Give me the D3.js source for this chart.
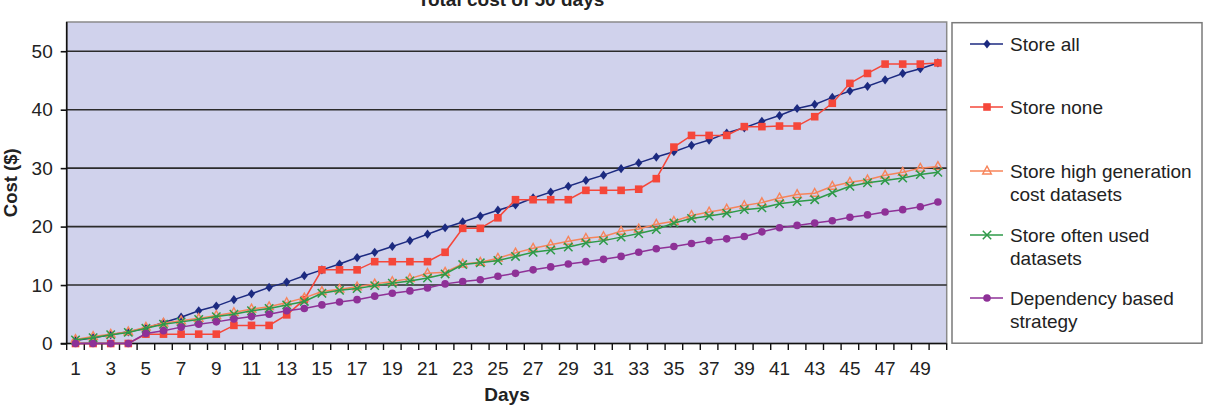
<!DOCTYPE html>
<html>
<head>
<meta charset="utf-8">
<script src="https://cdn.jsdelivr.net/npm/d3@7"></script>
<style>
  body { margin: 0; background: #fff; }
  text { font-family: "Liberation Sans", Arial, sans-serif; fill: #222; }
</style>
</head>
<body>
<svg id="chart"></svg>
<script>
// chart data
const days = d3.range(1, 51);
const yTicks = [0, 10, 20, 30, 40, 50];

const storeAll = [0.5, 1.0, 1.5, 2.0, 2.6, 3.6, 4.5, 5.6, 6.4, 7.5, 8.5, 9.6, 10.5, 11.6, 12.6, 13.6, 14.7, 15.6, 16.6, 17.6,
  18.7, 19.8, 20.8, 21.8, 22.8, 23.7, 24.9, 25.9, 26.9, 27.9, 28.8, 29.9, 30.9, 31.9, 32.8, 33.9, 34.8, 36.0, 36.9, 38.0,
  39.0, 40.2, 40.9, 42.1, 43.2, 44.0, 45.1, 46.2, 47.0, 48.0];
const storeNone = [0, 0, 0, 0, 1.6, 1.6, 1.6, 1.6, 1.6, 3.1, 3.1, 3.1, 4.9, 7.5, 12.6, 12.6, 12.6, 14.0, 14.0, 14.0,
  14.0, 15.6, 19.7, 19.7, 21.5, 24.6, 24.6, 24.6, 24.6, 26.2, 26.2, 26.2, 26.4, 28.2, 33.6, 35.6, 35.6, 35.6, 37.1, 37.1,
  37.2, 37.2, 38.8, 41.1, 44.5, 46.2, 47.8, 47.8, 47.8, 48.0];
const highGen = [0.7, 1.2, 1.6, 2.0, 2.8, 3.5, 3.9, 4.3, 4.8, 5.3, 5.9, 6.3, 7.0, 7.8, 8.9, 9.3, 9.7, 10.2, 10.6, 11.1,
  12.0, 12.2, 13.6, 13.9, 14.6, 15.5, 16.3, 16.9, 17.5, 18.0, 18.3, 19.2, 19.6, 20.4, 20.9, 21.9, 22.5, 23.0, 23.6, 24.1,
  24.9, 25.5, 25.7, 26.9, 27.6, 28.0, 28.8, 29.3, 30.0, 30.3];
const oftenUsed = [0.6, 1.0, 1.5, 1.9, 2.6, 3.3, 3.7, 4.1, 4.6, 5.0, 5.6, 6.0, 6.6, 7.2, 8.6, 9.1, 9.4, 9.9, 10.3, 10.7,
  11.2, 11.9, 13.5, 13.8, 14.2, 14.9, 15.6, 16.0, 16.5, 17.2, 17.6, 18.2, 18.8, 19.5, 20.6, 21.4, 21.8, 22.3, 22.9, 23.2,
  23.9, 24.3, 24.6, 25.8, 26.9, 27.5, 27.9, 28.3, 28.9, 29.3];
const dependency = [0, 0, 0, 0, 1.7, 2.2, 2.8, 3.3, 3.7, 4.2, 4.6, 5.0, 5.6, 6.0, 6.6, 7.1, 7.5, 8.1, 8.6, 9.0,
  9.5, 10.2, 10.6, 10.9, 11.5, 12.0, 12.6, 13.1, 13.6, 14.0, 14.4, 14.9, 15.6, 16.2, 16.6, 17.1, 17.6, 17.9, 18.3, 19.1,
  19.8, 20.2, 20.6, 21.0, 21.6, 22.0, 22.5, 22.9, 23.4, 24.2];

const seriesNames = ["Store all", "Store none", "Store high generation cost datasets",
  "Store often used datasets", "Dependency based strategy"];
const legendLines = [["Store all"], ["Store none"], ["Store high generation", "cost datasets"],
  ["Store often used", "datasets"], ["Dependency based", "strategy"]];

const series = [
  { name: seriesNames[0], values: storeAll, color: "#1c2a80", marker: "diamond" },
  { name: seriesNames[1], values: storeNone, color: "#f5473a", marker: "square" },
  { name: seriesNames[2], values: highGen, color: "#f7845a", marker: "triangle" },
  { name: seriesNames[3], values: oftenUsed, color: "#2e9a48", marker: "cross" },
  { name: seriesNames[4], values: dependency, color: "#8e3197", marker: "circle" }
];

const width = 1209, height = 414;
const plot = { left: 66.7, right: 946.7, top: 22, bottom: 343.5 };

const svg = d3.select("#chart").attr("width", width).attr("height", height);

const x = d3.scaleBand().domain(days).range([plot.left, plot.right]).padding(0);
const y = d3.scaleLinear().domain([0, 55]).range([plot.bottom, plot.top]);
const cx = d => x(d) + x.bandwidth() / 2;

// plot area
svg.append("rect")
   .attr("x", plot.left).attr("y", plot.top)
   .attr("width", plot.right - plot.left).attr("height", plot.bottom - plot.top)
   .attr("fill", "#d0d2ec")
   .attr("stroke", "#8a8a8a")
   .attr("stroke-width", 1.5);

// gridlines
svg.append("g")
   .selectAll("line")
   .data(yTicks.filter(t => t > 0))
   .join("line")
   .attr("x1", plot.left).attr("x2", plot.right)
   .attr("y1", d => y(d)).attr("y2", d => y(d))
   .attr("stroke", "#2b2b2b")
   .attr("stroke-width", 1.6);

// y axis
const yAxis = svg.append("g")
   .attr("transform", `translate(${plot.left},0)`)
   .call(d3.axisLeft(y).tickValues(yTicks).tickSize(6).tickSizeOuter(0).tickPadding(8));
yAxis.select(".domain").attr("stroke", "#111").attr("stroke-width", 1.6)
     .attr("d", `M0,${plot.top}V${plot.bottom}`);
yAxis.selectAll(".tick line").attr("stroke", "#111").attr("stroke-width", 1.6);
yAxis.selectAll(".tick text").style("font-size", "19px").attr("fill", "#222");

// x axis
svg.append("line")
   .attr("x1", plot.left - 6).attr("x2", plot.right)
   .attr("y1", plot.bottom).attr("y2", plot.bottom)
   .attr("stroke", "#111").attr("stroke-width", 1.6);

const bounds = days.map(d => x(d)).concat([plot.right]);
svg.append("g")
   .selectAll("line")
   .data(bounds)
   .join("line")
   .attr("x1", d => d).attr("x2", d => d)
   .attr("y1", plot.bottom).attr("y2", plot.bottom + 6.5)
   .attr("stroke", "#111").attr("stroke-width", 1.4);

svg.append("g")
   .selectAll("text")
   .data(days.filter(d => d % 2 === 1))
   .join("text")
   .attr("x", d => cx(d))
   .attr("y", 375)
   .attr("text-anchor", "middle")
   .style("font-size", "19px")
   .text(d => d);

// titles (the top one is clipped by the frame, as in the source)
svg.append("text")
   .attr("x", 511).attr("y", 6)
   .attr("text-anchor", "middle")
   .style("font-size", "19px").style("font-weight", "bold")
   .text("Total cost of 50 days");

svg.append("text")
   .attr("x", 507).attr("y", 401)
   .attr("text-anchor", "middle")
   .style("font-size", "19px").style("font-weight", "bold")
   .text("Days");

svg.append("text")
   .attr("transform", `translate(17,${(plot.top + plot.bottom) / 2}) rotate(-90)`)
   .attr("text-anchor", "middle")
   .style("font-size", "18.5px").style("font-weight", "bold")
   .text("Cost ($)");

// markers
function drawMarker(sel, s) {
  if (s.marker === "circle") {
    sel.append("circle").attr("r", 3.8).attr("fill", s.color);
  } else if (s.marker === "diamond") {
    sel.append("path").attr("d", "M0,-4.6L3.6,0L0,4.6L-3.6,0Z").attr("fill", s.color);
  } else if (s.marker === "square") {
    sel.append("path").attr("d", "M-3.8,-3.8h7.6v7.6h-7.6Z").attr("fill", s.color);
  } else if (s.marker === "triangle") {
    sel.append("path").attr("d", "M0,-4.8L4.3,3L-4.3,3Z")
       .attr("fill", "none").attr("stroke", s.color).attr("stroke-width", 1.4);
  } else if (s.marker === "cross") {
    sel.append("path").attr("d", "M-4.2,-4.2L4.2,4.2M-4.2,4.2L4.2,-4.2")
       .attr("fill", "none").attr("stroke", s.color).attr("stroke-width", 1.5);
  }
}

const line = d3.line().x((v, i) => cx(days[i])).y(v => y(v));

series.forEach(s => {
  const g = svg.append("g");
  g.append("path")
   .attr("d", line(s.values))
   .attr("fill", "none")
   .attr("stroke", s.color)
   .attr("stroke-width", 1.5);
  s.values.forEach((v, i) => {
    const m = g.append("g").attr("transform", `translate(${cx(days[i])},${y(v)})`);
    drawMarker(m, s);
  });
});

// legend
const legend = svg.append("g");
legend.append("rect")
   .attr("x", 952).attr("y", 22.7)
   .attr("width", 250).attr("height", 320.5)
   .attr("fill", "#fff")
   .attr("stroke", "#7a7a7a")
   .attr("stroke-width", 1.5);

const legendY = [44, 107, 171, 235, 298];
series.forEach((s, i) => {
  const ly = legendY[i];
  legend.append("line")
        .attr("x1", 970).attr("x2", 1003)
        .attr("y1", ly).attr("y2", ly)
        .attr("stroke", s.color).attr("stroke-width", 1.5);
  const m = legend.append("g").attr("transform", `translate(987,${ly})`);
  drawMarker(m, s);
  legendLines[i].forEach((t, j) => {
    legend.append("text")
          .attr("x", 1010).attr("y", ly + 6.5 + j * 23)
          .style("font-size", "19px")
          .text(t);
  });
});
</script>
</body>
</html>
